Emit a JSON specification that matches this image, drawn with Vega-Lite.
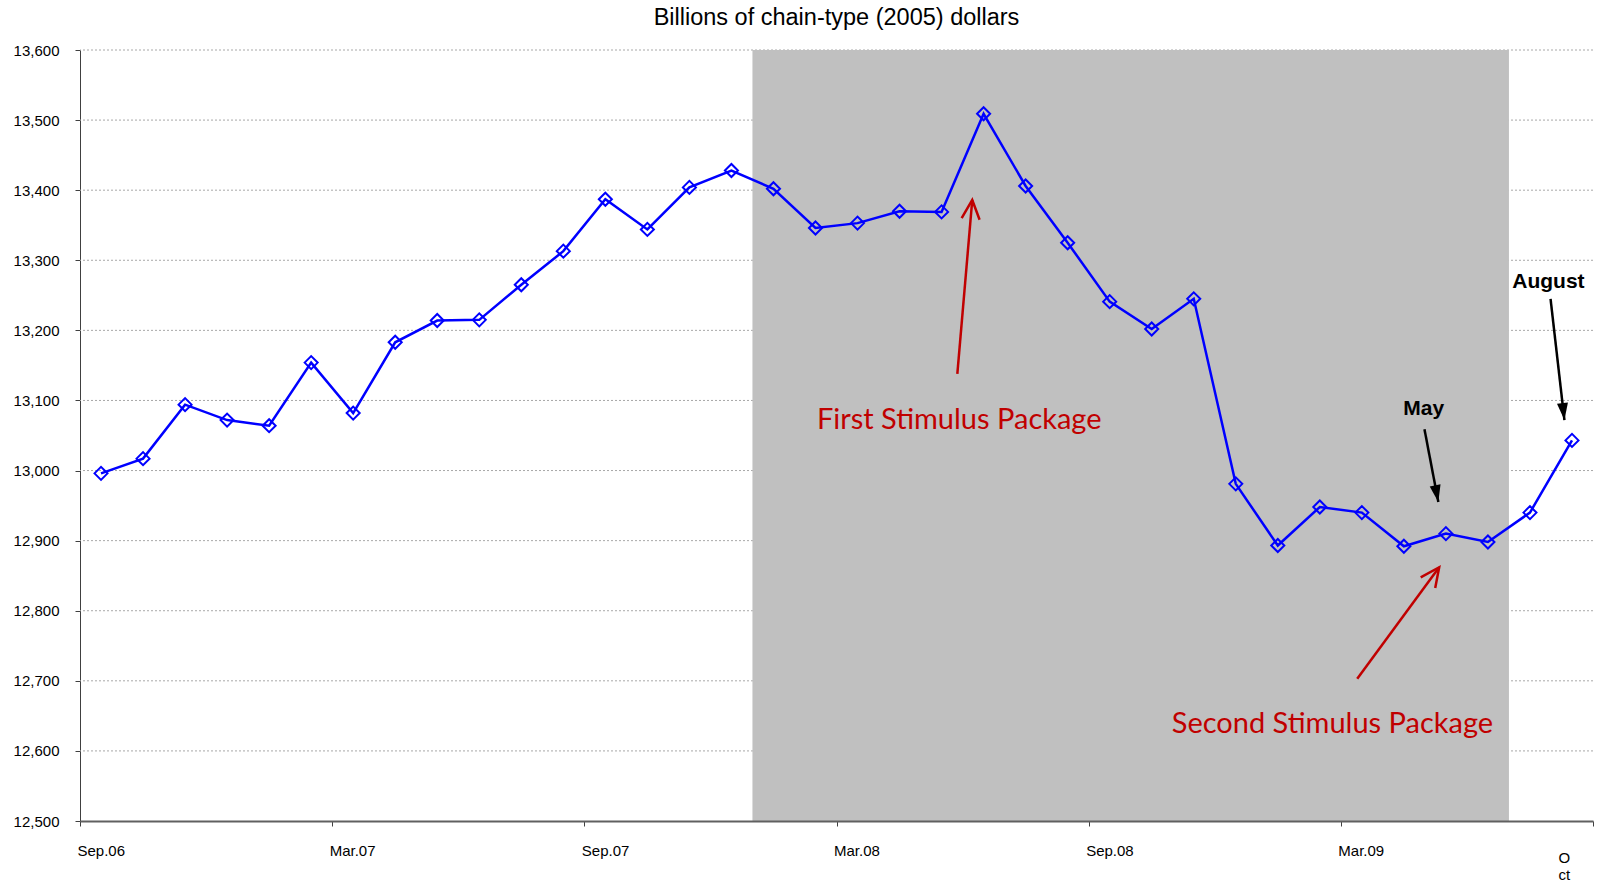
{
  "$schema": "https://vega.github.io/schema/vega-lite/v6.json",
  "width": 1513,
  "height": 771,
  "autosize": "none",
  "padding": {"left": 80, "top": 50, "right": 7, "bottom": 62},
  "background": "white",
  "config": {
    "view": {"stroke": null},
    "font": "Liberation Sans"
  },
  "title": {
    "text": "Billions of chain-type (2005) dollars",
    "font": "Liberation Sans",
    "fontSize": 23.5,
    "fontWeight": "normal",
    "color": "black",
    "anchor": "middle",
    "offset": 14
  },
  "datasets": {
    "series": [
      {"month": "Sep.06", "i": 0, "v": 12996},
      {"month": "Oct.06", "i": 1, "v": 13017},
      {"month": "Nov.06", "i": 2, "v": 13094},
      {"month": "Dec.06", "i": 3, "v": 13072},
      {"month": "Jan.07", "i": 4, "v": 13064},
      {"month": "Feb.07", "i": 5, "v": 13154},
      {"month": "Mar.07", "i": 6, "v": 13082},
      {"month": "Apr.07", "i": 7, "v": 13183},
      {"month": "May.07", "i": 8, "v": 13214},
      {"month": "Jun.07", "i": 9, "v": 13215},
      {"month": "Jul.07", "i": 10, "v": 13265},
      {"month": "Aug.07", "i": 11, "v": 13313},
      {"month": "Sep.07", "i": 12, "v": 13387},
      {"month": "Oct.07", "i": 13, "v": 13344},
      {"month": "Nov.07", "i": 14, "v": 13404},
      {"month": "Dec.07", "i": 15, "v": 13428},
      {"month": "Jan.08", "i": 16, "v": 13402},
      {"month": "Feb.08", "i": 17, "v": 13346},
      {"month": "Mar.08", "i": 18, "v": 13353},
      {"month": "Apr.08", "i": 19, "v": 13370},
      {"month": "May.08", "i": 20, "v": 13369},
      {"month": "Jun.08", "i": 21, "v": 13509},
      {"month": "Jul.08", "i": 22, "v": 13406},
      {"month": "Aug.08", "i": 23, "v": 13325},
      {"month": "Sep.08", "i": 24, "v": 13241},
      {"month": "Oct.08", "i": 25, "v": 13202},
      {"month": "Nov.08", "i": 26, "v": 13245},
      {"month": "Dec.08", "i": 27, "v": 12981},
      {"month": "Jan.09", "i": 28, "v": 12893},
      {"month": "Feb.09", "i": 29, "v": 12948},
      {"month": "Mar.09", "i": 30, "v": 12940},
      {"month": "Apr.09", "i": 31, "v": 12892},
      {"month": "May.09", "i": 32, "v": 12910},
      {"month": "Jun.09", "i": 33, "v": 12898},
      {"month": "Jul.09", "i": 34, "v": 12940},
      {"month": "Aug.09", "i": 35, "v": 13043}
    ],
    "gridValues": [
      {"v": 12600}, {"v": 12700}, {"v": 12800}, {"v": 12900}, {"v": 13000},
      {"v": 13100}, {"v": 13200}, {"v": 13300}, {"v": 13400}, {"v": 13500}, {"v": 13600}
    ],
    "recession": [
      {"start": 15.5, "end": 33.5, "low": 12500, "high": 13600}
    ],
    "redArrows": [
      {"name": "first", "i1": 20.375, "v1": 13138, "i2": 20.73, "v2": 13386},
      {"name": "second", "i1": 29.89, "v1": 12703, "i2": 31.84, "v2": 12862}
    ],
    "blackArrows": [
      {"name": "may", "i1": 31.49, "v1": 13059, "i2": 31.82, "v2": 12955},
      {"name": "august", "i1": 34.49, "v1": 13245, "i2": 34.82, "v2": 13072}
    ],
    "redLabels": [
      {"text": "First Stimulus Package", "i": 20.42, "v": 13072},
      {"text": "Second Stimulus Package", "i": 29.3, "v": 12639}
    ],
    "blackLabels": [
      {"text": "May", "i": 31.47, "v": 13088},
      {"text": "August", "i": 34.44, "v": 13269}
    ],
    "lastTick": [
      {"text": ["O", "ct"], "i": 34.82, "v": 12447}
    ]
  },
  "resolve": {"axis": {"x": "independent", "y": "independent"}},
  "layer": [
    {
      "data": {"name": "gridValues"},
      "mark": {"type": "rule", "color": "#a8a8a8", "strokeWidth": 1, "strokeDash": [2, 2]},
      "encoding": {
        "y": {
          "field": "v", "type": "quantitative",
          "scale": {"domain": [12500, 13600], "nice": false, "zero": false},
          "axis": {
            "values": [12500, 12600, 12700, 12800, 12900, 13000, 13100, 13200, 13300, 13400, 13500, 13600],
            "format": ",d",
            "title": null,
            "grid": false,
            "domainColor": "#404040",
            "domainWidth": 1,
            "tickColor": "#404040",
            "tickSize": 5,
            "labelFont": "Liberation Sans",
            "labelFontSize": 15,
            "labelColor": "black",
            "labelPadding": 16
          }
        }
      }
    },
    {
      "data": {"name": "recession"},
      "mark": {"type": "rect", "color": "#C0C0C0"},
      "encoding": {
        "x": {
          "field": "start", "type": "quantitative",
          "scale": {"domain": [-0.5, 35.5], "nice": false, "zero": false},
          "axis": {
            "values": [-0.5, 5.5, 11.5, 17.5, 23.5, 29.5, 35.5],
            "title": null,
            "zindex": 1,
            "grid": false,
            "domainColor": "#606060",
            "domainWidth": 2,
            "tickColor": "#404040",
            "tickSize": 5,
            "tickWidth": 1,
            "labelFont": "Liberation Sans",
            "labelFontSize": 15,
            "labelColor": "black",
            "labelPadding": 17,
            "labelAlign": "left",
            "labelBaseline": "top",
            "labelOffset": -3,
            "labelFlush": false,
            "labelOverlap": false,
            "labelExpr": "datum.value == -0.5 ? 'Sep.06' : datum.value == 5.5 ? 'Mar.07' : datum.value == 11.5 ? 'Sep.07' : datum.value == 17.5 ? 'Mar.08' : datum.value == 23.5 ? 'Sep.08' : datum.value == 29.5 ? 'Mar.09' : ''"
          }
        },
        "x2": {"field": "end"},
        "y": {"field": "low", "type": "quantitative", "axis": null},
        "y2": {"field": "high"}
      }
    },
    {
      "data": {"name": "lastTick"},
      "mark": {"type": "text", "font": "Liberation Sans", "fontSize": 15, "color": "black", "align": "center", "baseline": "middle", "lineHeight": 17},
      "encoding": {
        "x": {"field": "i", "type": "quantitative", "axis": null},
        "y": {"field": "v", "type": "quantitative", "axis": null},
        "text": {"field": "text"}
      }
    },
    {
      "data": {"name": "series"},
      "mark": {"type": "line", "color": "#0000FF", "strokeWidth": 2.5},
      "encoding": {
        "x": {"field": "i", "type": "quantitative", "axis": null},
        "y": {"field": "v", "type": "quantitative", "axis": null}
      }
    },
    {
      "data": {"name": "series"},
      "mark": {"type": "point", "shape": "diamond", "size": 170, "filled": false, "color": "#0000FF", "strokeWidth": 2, "opacity": 1},
      "encoding": {
        "x": {"field": "i", "type": "quantitative", "axis": null},
        "y": {"field": "v", "type": "quantitative", "axis": null}
      }
    },
    {
      "data": {"name": "redArrows"},
      "mark": {"type": "rule", "color": "#C00000", "strokeWidth": 2.5},
      "encoding": {
        "x": {"field": "i1", "type": "quantitative", "axis": null},
        "y": {"field": "v1", "type": "quantitative", "axis": null},
        "x2": {"field": "i2"},
        "y2": {"field": "v2"}
      }
    },
    {
      "data": {"name": "blackArrows"},
      "mark": {"type": "rule", "color": "black", "strokeWidth": 2.5},
      "encoding": {
        "x": {"field": "i1", "type": "quantitative", "axis": null},
        "y": {"field": "v1", "type": "quantitative", "axis": null},
        "x2": {"field": "i2"},
        "y2": {"field": "v2"}
      }
    },
    {
      "data": {"name": "redArrows"},
      "transform": [{"filter": "datum.name == 'first'"}],
      "mark": {"type": "point", "shape": "M-0.9,1.9L0,0L0.9,1.9", "size": 400, "filled": false, "color": "#C00000", "strokeWidth": 2.5, "opacity": 1, "angle": 4.9},
      "encoding": {
        "x": {"field": "i2", "type": "quantitative", "axis": null},
        "y": {"field": "v2", "type": "quantitative", "axis": null}
      }
    },
    {
      "data": {"name": "redArrows"},
      "transform": [{"filter": "datum.name == 'second'"}],
      "mark": {"type": "point", "shape": "M-0.9,1.9L0,0L0.9,1.9", "size": 400, "filled": false, "color": "#C00000", "strokeWidth": 2.5, "opacity": 1, "angle": 36.2},
      "encoding": {
        "x": {"field": "i2", "type": "quantitative", "axis": null},
        "y": {"field": "v2", "type": "quantitative", "axis": null}
      }
    },
    {
      "data": {"name": "blackArrows"},
      "transform": [{"filter": "datum.name == 'may'"}],
      "mark": {"type": "point", "shape": "M0,0L-0.55,1.7L0.55,1.7Z", "size": 400, "filled": true, "color": "black", "strokeWidth": 0, "opacity": 1, "angle": 169.1},
      "encoding": {
        "x": {"field": "i2", "type": "quantitative", "axis": null},
        "y": {"field": "v2", "type": "quantitative", "axis": null}
      }
    },
    {
      "data": {"name": "blackArrows"},
      "transform": [{"filter": "datum.name == 'august'"}],
      "mark": {"type": "point", "shape": "M0,0L-0.55,1.7L0.55,1.7Z", "size": 400, "filled": true, "color": "black", "strokeWidth": 0, "opacity": 1, "angle": 173.4},
      "encoding": {
        "x": {"field": "i2", "type": "quantitative", "axis": null},
        "y": {"field": "v2", "type": "quantitative", "axis": null}
      }
    },
    {
      "data": {"name": "redLabels"},
      "mark": {"type": "text", "font": "Lato", "fontSize": 29, "color": "#C00000", "align": "center", "baseline": "middle"},
      "encoding": {
        "x": {"field": "i", "type": "quantitative", "axis": null},
        "y": {"field": "v", "type": "quantitative", "axis": null},
        "text": {"field": "text"}
      }
    },
    {
      "data": {"name": "blackLabels"},
      "mark": {"type": "text", "font": "Liberation Sans", "fontSize": 21, "fontWeight": "bold", "color": "black", "align": "center", "baseline": "middle"},
      "encoding": {
        "x": {"field": "i", "type": "quantitative", "axis": null},
        "y": {"field": "v", "type": "quantitative", "axis": null},
        "text": {"field": "text"}
      }
    }
  ]
}
